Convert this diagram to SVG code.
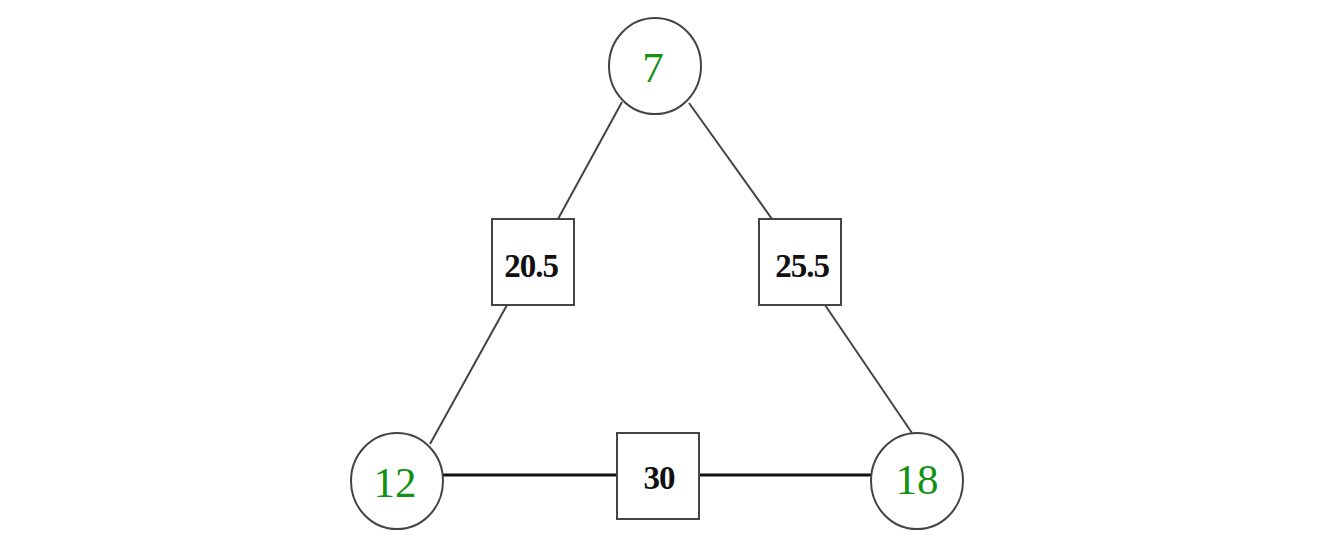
<svg xmlns="http://www.w3.org/2000/svg" width="1322" height="547" viewBox="0 0 1322 547">
<style>
.c{fill:#fff;stroke:#444;stroke-width:2}
.b{fill:#fff;stroke:#444;stroke-width:2}
.e{stroke:#444;stroke-width:2;fill:none}
.h{stroke:#111;stroke-width:3;fill:none}
.ct{font-family:"Liberation Serif","DejaVu Serif",serif;font-size:43px;fill:#149114;text-anchor:middle}
.bt{font-family:"Liberation Serif","DejaVu Serif",serif;font-size:33px;font-weight:bold;fill:#111;text-anchor:middle;letter-spacing:-1px}
</style>
<rect width="1322" height="547" fill="#fff"/>
<g id="edges">
<line class="e" x1="622" y1="102" x2="558" y2="219"/>
<line class="e" x1="689" y1="103" x2="772" y2="219"/>
<line class="e" x1="507" y1="305" x2="430" y2="444"/>
<line class="e" x1="825" y1="305" x2="912" y2="433"/>
<line class="h" x1="443" y1="475" x2="617" y2="475"/>
<line class="h" x1="699" y1="475" x2="871" y2="475"/>
</g>
<g id="n7"><ellipse class="c" cx="655" cy="66" rx="46" ry="48"/><text class="ct" x="653" y="82">7</text></g>
<g id="n12"><ellipse class="c" cx="397" cy="481" rx="46" ry="48"/><text class="ct" x="395" y="497">12</text></g>
<g id="n18"><ellipse class="c" cx="917" cy="481" rx="46" ry="48"/><text class="ct" x="917" y="494">18</text></g>
<g id="b205"><rect class="b" x="492" y="219" width="82" height="86"/><text class="bt" x="531" y="277">20.5</text></g>
<g id="b255"><rect class="b" x="759" y="219" width="82" height="86"/><text class="bt" x="802" y="277">25.5</text></g>
<g id="b30"><rect class="b" x="617" y="433" width="82" height="86"/><text class="bt" x="659" y="489">30</text></g>
</svg>
